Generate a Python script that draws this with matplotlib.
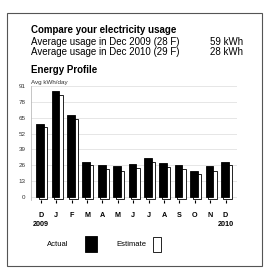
import matplotlib
matplotlib.use("Agg")
import matplotlib.pyplot as plt
from matplotlib.patches import Rectangle
from matplotlib import font_manager

months = ["D\n2009", "J", "F", "M", "A", "M", "J", "J", "A", "S", "O", "N", "D\n2010"]
actual = [60, 87, 67, 29, 26, 25, 27, 32, 28, 26, 21.5, 25, 29]
estimate = [57, 84, 64, 26, 23, 21.5, 24, 29, 24.5, 23, 19, 21.5, 26]
yticks = [0, 13, 26, 39, 52, 65, 78, 91]
usage_labels = ["Average usage in Dec 2009 (28 F)", "Average usage in Dec 2010 (29 F)"]
usage_values = ["59 kWh", "28 kWh"]

names = {f.name for f in font_manager.fontManager.ttflist}
narrow = "Liberation Sans Narrow" if "Liberation Sans Narrow" in names else "Liberation Sans"
plt.rcParams["font.family"] = [narrow, "DejaVu Sans"]

W, H = 270, 280
fig = plt.figure(figsize=(W / 100, H / 100), dpi=100)


def px(x, y):
    # pixel position (from top-left) -> figure coords
    return x / W, 1 - y / H


# outer frame
fig.patches.append(Rectangle(px(7, 266), 255 / W, 253 / H, transform=fig.transFigure,
                             fill=False, edgecolor="#555555", linewidth=0.8))

fig.text(*px(31, 30), "Compare your electricity usage", fontsize=7.0, fontweight="bold",
         va="center", ha="left")
for i, (label, val) in enumerate(zip(usage_labels, usage_values)):
    y = 42 + i * 10
    fig.text(*px(31, y), label, fontsize=7.0, va="center", ha="left")
    fig.text(*px(243, y), val, fontsize=7.0, va="center", ha="right")
fig.text(*px(31, 70), "Energy Profile", fontsize=7.0, fontweight="bold", va="center", ha="left")

ax = fig.add_axes([31 / W, 1 - 200 / H, 206 / W, 114 / H])
x = list(range(len(months)))
ax.bar([i + 0.13 for i in x], [v + 1.6 for v in estimate], width=0.56, bottom=-1.6,
       color="white", edgecolor="black", linewidth=0.6, zorder=2)
ax.bar([i - 0.05 for i in x], actual, width=0.5, color="black", edgecolor="black",
       linewidth=0.6, zorder=3)

ax.set_xlim(-0.64, 12.74)
ax.set_ylim(-2.5, 91)
ax.set_yticks(yticks)
ax.set_yticklabels([str(t) for t in yticks], fontsize=4.5, color="#333333")
ax.tick_params(axis="y", length=0, pad=4)
ax.set_xticks(x)
ax.set_xticklabels(months, fontsize=5.2, fontweight="bold", linespacing=1.5)
ax.tick_params(axis="x", length=2.5, width=0.8, color="black", pad=6)
ax.grid(axis="y", color="#e2e2e2", linewidth=0.6, zorder=0)
ax.set_axisbelow(True)
for s in ["top", "right", "bottom"]:
    ax.spines[s].set_visible(False)
ax.spines["left"].set_color("#bbbbbb")
ax.spines["left"].set_linewidth(0.6)
ax.text(0.0, 91.5, "Avg kWh/day", fontsize=4.5, color="#333333",
        transform=ax.get_yaxis_transform(), ha="left", va="bottom")

# legend
fig.text(*px(58, 245), "Actual", fontsize=5.5, ha="center", va="center")
fig.patches.append(Rectangle(px(85, 252), 12 / W, 16 / H, transform=fig.transFigure,
                             facecolor="black", edgecolor="black", linewidth=0.6))
fig.text(*px(131, 245), "Estimate", fontsize=5.5, ha="center", va="center")
fig.patches.append(Rectangle(px(153, 252), 8 / W, 15 / H, transform=fig.transFigure,
                             facecolor="white", edgecolor="black", linewidth=0.6))

fig.savefig("out.png", dpi=100)
